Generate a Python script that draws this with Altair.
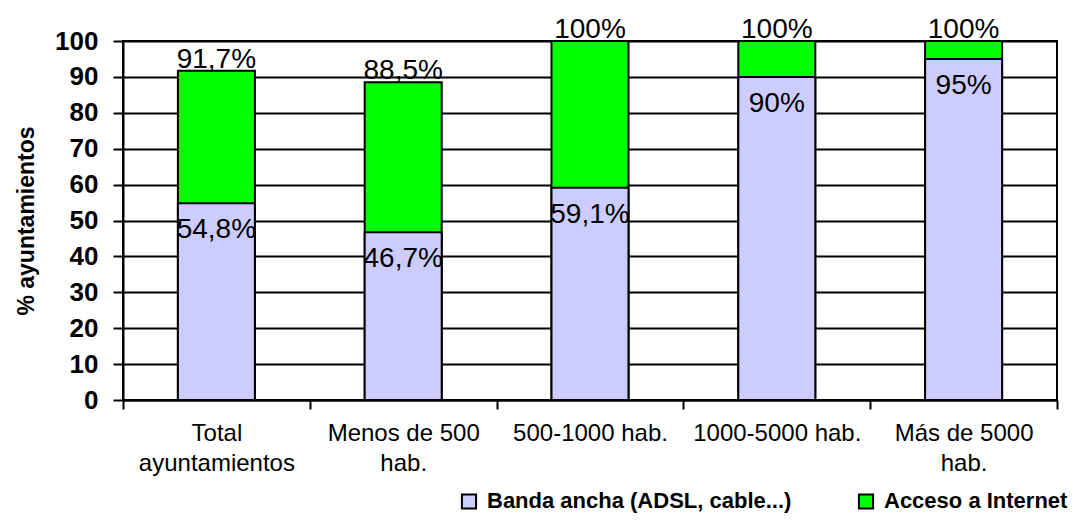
import altair as alt
import pandas as pd

categories = ["Total|ayuntamientos", "Menos de 500|hab.", "500-1000 hab.", "1000-5000 hab.", "Más de 5000|hab."]
banda_values = [54.8, 46.7, 59.1, 90.0, 95.0]
banda_labels = ["54,8%", "46,7%", "59,1%", "90%", "95%"]
internet_values = [91.7, 88.5, 100.0, 100.0, 100.0]
internet_labels = ["91,7%", "88,5%", "100%", "100%", "100%"]
series_names = ["Banda ancha (ADSL, cable...)", "Acceso a Internet"]
series_colors = ["#CCCCFF", "#00FF00"]
y_ticks = [0, 10, 20, 30, 40, 50, 60, 70, 80, 90, 100]

df_int = pd.DataFrame({"cat": categories, "value": internet_values,
                       "label": internet_labels, "serie": series_names[1]})
df_ban = pd.DataFrame({"cat": categories, "value": banda_values,
                       "label": banda_labels, "serie": series_names[0]})

FONT = "Liberation Sans"

x_enc = alt.X("cat:N", sort=categories,
              scale=alt.Scale(paddingInner=0, paddingOuter=0),
              axis=alt.Axis(title=None, labelAngle=0, labelExpr="split(datum.label, '|')",
                            labelFontSize=24, labelColor="black", labelLineHeight=30,
                            labelPadding=12, tickBand="extent", tickSize=9, tickWidth=2,
                            tickColor="black", domainColor="black", domainWidth=2,
                            grid=False, labelLimit=300))
y_enc = alt.Y("value:Q", scale=alt.Scale(domain=[0, 100], nice=False),
              axis=alt.Axis(title="% ayuntamientos", values=y_ticks, labelFontSize=26,
                            labelFontWeight="bold", labelColor="black", labelPadding=15,
                            tickSize=10, tickWidth=2, tickColor="black",
                            domainColor="black", domainWidth=2,
                            grid=True, gridColor="black", gridWidth=2,
                            titleFontSize=23, titleFontWeight="bold", titleColor="black",
                            titlePadding=16))
color_enc = alt.Color("serie:N", scale=alt.Scale(domain=series_names, range=series_colors),
                      legend=alt.Legend(title=None, orient="none", direction="horizontal",
                                        legendX=335, legendY=449, symbolType="square",
                                        symbolSize=200, symbolStrokeColor="black",
                                        symbolStrokeWidth=2, labelFontSize=22,
                                        labelFontWeight="bold", labelColor="black",
                                        labelLimit=500, columnPadding=62, labelOffset=7))

bars_int = alt.Chart(df_int).mark_bar(size=77, stroke="black", strokeWidth=2).encode(
    x=x_enc, y=y_enc, color=color_enc)
bars_ban = alt.Chart(df_ban).mark_bar(size=77, stroke="black", strokeWidth=2).encode(
    x=x_enc, y=y_enc, color=color_enc)
text_int = alt.Chart(df_int).mark_text(fontSize=28, baseline="alphabetic", dy=-3,
                                       color="black").encode(
    x=x_enc, y=y_enc, text="label:N")
text_ban = alt.Chart(df_ban).mark_text(fontSize=28, baseline="top", dy=13,
                                       color="black").encode(
    x=x_enc, y=y_enc, text="label:N")

chart = alt.layer(bars_int, bars_ban, text_int, text_ban).properties(
    width=934, height=359,
    autosize=alt.AutoSizeParams(type="none"),
    padding={"left": 115, "top": 33, "right": 27, "bottom": 113},
).configure(font=FONT).configure_view(stroke="black", strokeWidth=2)

chart.save("out.html", embed_options={"renderer": "svg", "actions": False})
